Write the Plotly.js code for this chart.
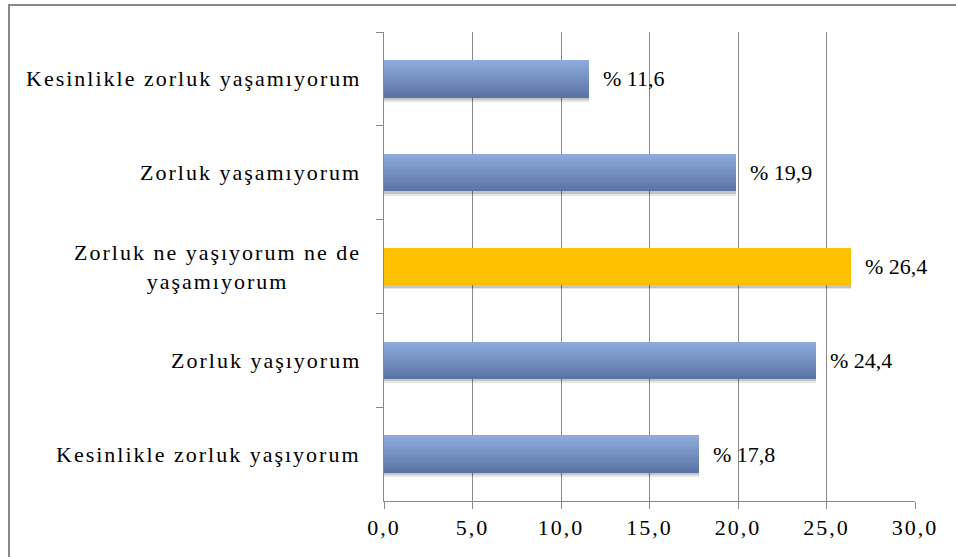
<!DOCTYPE html>
<html>
<head>
<meta charset="utf-8">
<script src="https://cdn.plot.ly/plotly-3.0.1.min.js"></script>
<style>
  html, body { margin: 0; padding: 0; background: #fff; }
  #chart { width: 956px; height: 557px; }
  .xtick text { letter-spacing: 2px; }
</style>
</head>
<body>
<div id="chart"></div>
<script>
// ---- data (top to bottom) ----
const categories = [
  "Kesinlikle zorluk yaşamıyorum",
  "Zorluk yaşamıyorum",
  "Zorluk ne yaşıyorum ne de yaşamıyorum",
  "Zorluk yaşıyorum",
  "Kesinlikle zorluk yaşıyorum"
];
const categoryLabels = [
  "Kesinlikle zorluk yaşamıyorum",
  "Zorluk yaşamıyorum",
  "Zorluk ne yaşıyorum ne de<br>yaşamıyorum",
  "Zorluk yaşıyorum",
  "Kesinlikle zorluk yaşıyorum"
];
const values = [11.6, 19.9, 26.4, 24.4, 17.8];
const highlighted = [false, false, true, false, false];
const xTickValues = [0, 5, 10, 15, 20, 25, 30];
const xTickLabels = ["0,0", "5,0", "10,0", "15,0", "20,0", "25,0", "30,0"];

// ---- styling ----
const FONT = "Liberation Serif";
const BAR_W = 0.4;
const N_SLICES = 14;
const gradTop = [142, 170, 220], gradBot = [90, 117, 165];
const yellow = "#FFC000";
function mix(t) {
  const c = gradTop.map((a, i) => Math.round(a + (gradBot[i] - a) * t));
  return `rgb(${c[0]},${c[1]},${c[2]})`;
}

const traces = [];
// soft shadow
[[0.045, 0.10], [0.025, 0.14]].forEach(([dy, op]) => {
  traces.push({
    type: "bar", orientation: "h", x: values, y: categories,
    offset: -BAR_W / 2 + dy, width: BAR_W,
    marker: { color: `rgba(0,0,0,${op})`, line: { width: 0 } },
    hoverinfo: "skip", showlegend: false
  });
});
// gradient bars built from slices
for (let i = 0; i < N_SLICES; i++) {
  const t = i / (N_SLICES - 1);
  traces.push({
    type: "bar", orientation: "h", x: values, y: categories,
    offset: -BAR_W / 2 + i * BAR_W / N_SLICES,
    width: BAR_W / N_SLICES + (i < N_SLICES - 1 ? 0.004 : 0),
    marker: { color: highlighted.map(h => h ? yellow : mix(t)), line: { width: 0 } },
    hoverinfo: "skip", showlegend: false
  });
}

const annotations = [];
categories.forEach((c, i) => {
  annotations.push({
    x: values[i], y: c, xref: "x", yref: "y",
    text: "% " + values[i].toFixed(1).replace(".", ","),
    showarrow: false, xanchor: "left", yanchor: "middle", xshift: 12,
    font: { family: FONT, size: 22, color: "#000" }
  });
  annotations.push({
    x: 0, y: c, xref: "paper", yref: "y",
    text: categoryLabels[i], align: "center",
    showarrow: false, xanchor: "right", yanchor: "middle", xshift: -19,
    font: { family: FONT, size: 22, color: "#000" }
  });
});

const layout = {
  width: 956, height: 557,
  margin: { l: 384, r: 41, t: 32, b: 56, pad: 0 },
  paper_bgcolor: "#fff", plot_bgcolor: "#fff",
  barmode: "overlay", bargap: 0,
  showlegend: false,
  font: { family: FONT, size: 22, color: "#000" },
  xaxis: {
    range: [0, 30], tickvals: xTickValues, ticktext: xTickLabels,
    showgrid: true, gridcolor: "#8a8a8a", gridwidth: 1,
    showline: true, linecolor: "#8a8a8a", linewidth: 1,
    ticks: "outside", ticklen: 7, tickcolor: "#8a8a8a",
    zeroline: false, fixedrange: true,
    tickfont: { family: FONT, size: 22, color: "#000" }
  },
  yaxis: {
    type: "category", categoryorder: "array", categoryarray: categories,
    autorange: "reversed", showticklabels: false,
    showline: true, linecolor: "#8a8a8a", linewidth: 1,
    ticks: "outside", ticklen: 7, tickcolor: "#8a8a8a", tickson: "boundaries",
    showgrid: false, zeroline: false, fixedrange: true
  },
  annotations: annotations,
  shapes: [{
    type: "rect", xref: "paper", yref: "paper",
    x0: -375 / 531, x1: 1.5, y0: -0.5, y1: 496 / 469,
    line: { color: "#878787", width: 2 }, fillcolor: "rgba(0,0,0,0)", layer: "below"
  }]
};

Plotly.newPlot("chart", traces, layout, { displayModeBar: false, staticPlot: true }).then(() => {
  // widen the category labels' letter spacing, keeping their right edge in place
  document.querySelectorAll(".annotation").forEach((g, idx) => {
    if (idx % 2 === 1) {
      const t = g.querySelector("text.annotation-text");
      if (!t) return;
      const b1 = t.getBBox();
      t.style.letterSpacing = "2px";
      const b2 = t.getBBox();
      const dx = (b2.x + b2.width) - (b1.x + b1.width) + 2;
      t.setAttribute("transform", `translate(${-dx},0)`);
    }
  });
});
</script>
</body>
</html>
